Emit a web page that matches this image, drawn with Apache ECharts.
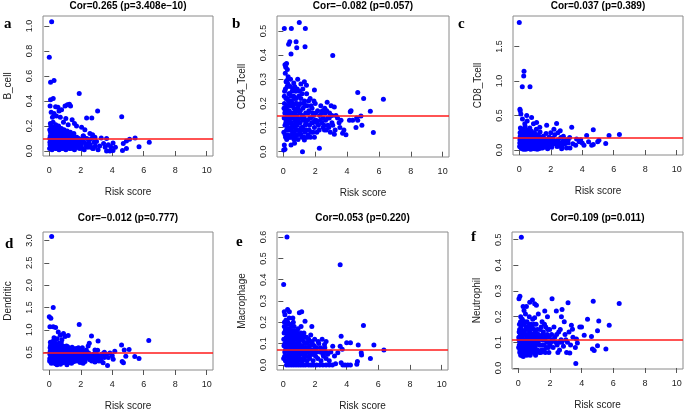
<!DOCTYPE html>
<html><head><meta charset="utf-8">
<script src="https://cdn.jsdelivr.net/npm/echarts@6/dist/echarts.min.js"></script>
<style>html,body{margin:0;padding:0;background:#fff}#c{width:685px;height:412px}</style>
</head><body><div id="c"></div>
<script>
// ---------- data ----------
const panelLetters = ['a','b','c','d','e','f'];
const panelTitles = ['Cor=0.265 (p=3.408e\u221210)','Cor=\u22120.082 (p=0.057)','Cor=0.037 (p=0.389)','Cor=\u22120.012 (p=0.777)','Cor=0.053 (p=0.220)','Cor=0.109 (p=0.011)'];
const cellTypes = ['B_cell','CD4_Tcell','CD8_Tcell','Dendritic','Macrophage','Neutrophil'];
const xName = 'Risk score';
const xTicks = [0,2,4,6,8,10];
const yTicksA = [0,0.2,0.4,0.6,0.8,1.0];
const yTicksB = [0,0.1,0.2,0.3,0.4,0.5];
const yTicksC = [0,0.5,1.0,1.5];
const yTicksD = [0.5,1.0,1.5,2.0,2.5,3.0];
const yTicksE = [0,0.1,0.2,0.3,0.4,0.5,0.6];
const yTicksF = [0,0.1,0.2,0.3,0.4,0.5];
const meanLines = [0.096,0.148,0.177,0.487,0.0716,0.110];

const bCell = [[0.15,1.035],[0.0,0.75],[0.08,0.55],[0.3,0.565],[1.9,0.46],[0.08,0.41],[0.25,0.42],[3.07,0.32],[4.6,0.275],[2.7,0.265],[2.37,0.265],[1.0,0.36],[1.15,0.37],[1.28,0.375],[1.35,0.36],[0.4,0.355],[0.05,0.36],[0.55,0.35],[0.12,0.31],[0.3,0.3],[0.62,0.32],[0.78,0.33],[0.45,0.28],[0.2,0.27],[0.7,0.27],[1.05,0.26],[1.45,0.25],[1.6,0.22],[1.73,0.2],[2.05,0.19],[0.9,0.23],[1.2,0.21],
[6.35,0.07],[5.7,0.035],[5.45,0.105],[5.1,0.095],[4.9,0.08],[4.9,0.02],[4.7,0.06],[4.65,0.005],[4.05,0.005],[3.85,0.0],[3.64,0.0],[4.05,0.065],[3.64,0.1],[3.3,0.105],[3.2,0.04],[3.0,0.077],[3.45,0.06],[3.55,0.03],[3.75,0.05],[3.9,0.035],[4.2,0.03],[3.1,0.01],[2.9,0.11],[2.8,0.02],[2.75,0.13],
[0.02,0.02],[0.04,0.07],[0.06,0.12],[0.03,0.17],[0.07,0.22],[0.09,0.04],[0.11,0.09],[0.13,0.14],[0.14,0.19],[0.17,0.01],[0.19,0.06],[0.21,0.11],[0.23,0.16],[0.24,0.23],[0.27,0.03],[0.29,0.08],[0.31,0.13],[0.33,0.18],[0.36,0.05],[0.38,0.1],[0.4,0.15],[0.41,0.21],[0.44,0.02],[0.46,0.07],[0.48,0.12],[0.5,0.17],[0.53,0.04],[0.55,0.09],[0.57,0.14],[0.59,0.2],[0.62,0.01],[0.64,0.06],[0.66,0.11],[0.68,0.16],[0.71,0.03],[0.73,0.08],[0.75,0.13],[0.77,0.18],[0.8,0.05],[0.82,0.1],[0.84,0.15],[0.87,0.02],[0.89,0.07],[0.91,0.12],[0.94,0.17],[0.96,0.04],[0.99,0.09],[1.02,0.14],[1.05,0.01],[1.08,0.06],[1.11,0.11],[1.14,0.16],[1.17,0.03],[1.2,0.08],[1.24,0.13],[1.27,0.05],[1.3,0.1],[1.34,0.15],[1.37,0.02],[1.41,0.07],[1.44,0.12],[1.48,0.04],[1.52,0.09],[1.56,0.14],[1.6,0.01],[1.64,0.06],[1.68,0.11],[1.72,0.03],[1.77,0.08],[1.82,0.05],[1.87,0.1],[1.92,0.02],[1.97,0.07],[2.03,0.04],[2.1,0.09],[2.17,0.12],[2.22,0.01],[2.3,0.06],[2.38,0.1],[2.45,0.03],[2.53,0.08],[2.6,0.05],[2.68,0.1],[2.76,0.02],[2.85,0.07],[2.93,0.04],[2.26,0.17],[2.58,0.14],[2.15,0.12],
[0.03,0.1],[0.05,0.05],[0.08,0.15],[0.1,0.2],[0.12,0.02],[0.16,0.12],[0.18,0.17],[0.2,0.07],[0.22,0.03],[0.26,0.13],[0.28,0.19],[0.3,0.05],[0.34,0.11],[0.37,0.16],[0.39,0.02],[0.43,0.09],[0.45,0.14],[0.47,0.04],[0.51,0.12],[0.54,0.06],[0.56,0.18],[0.6,0.1],[0.63,0.03],[0.67,0.14],[0.7,0.07],[0.74,0.11],[0.78,0.02],[0.81,0.08],[0.86,0.13],[0.9,0.04],[0.93,0.1],[0.97,0.15],[1.0,0.06],[1.04,0.11],[1.07,0.03],[1.12,0.08],[1.16,0.13],[1.19,0.05],[1.23,0.1],[1.28,0.02],[1.32,0.07],[1.36,0.12],[1.4,0.04],[1.46,0.09],[1.5,0.06],[1.55,0.02],[1.62,0.08],[1.7,0.05],[1.75,0.11],[1.85,0.03],[1.9,0.08],[2.0,0.06],[2.08,0.02],[2.2,0.07],[2.34,0.04],[2.5,0.06],[2.65,0.03]];

const cd4Tcell = [[0.06,0.51],[0.5,0.51],[1.0,0.535],[1.38,0.51],[0.33,0.445],[0.4,0.455],[0.8,0.455],[0.84,0.43],[1.36,0.435],[0.48,0.405],[3.1,0.398],[0.1,0.36],[0.15,0.35],[0.2,0.365],[0.25,0.34],[0.12,0.325],[0.3,0.31],[0.22,0.295],[0.45,0.3],[0.9,0.3],[1.32,0.29],[0.65,0.285],[1.1,0.28],[1.95,0.255],[1.45,0.275],
[4.67,0.245],[5.04,0.22],[6.28,0.217],[5.46,0.168],[5.65,0.079],[4.87,0.148],[4.93,0.11],[4.6,0.14],[4.56,0.1],[4.67,0.13],[4.25,0.17],[4.2,0.165],[4.35,0.13],[4.15,0.13],[3.62,0.13],[3.72,0.076],[3.93,0.07],[3.2,0.072],[3.5,0.12],[3.55,0.1],[3.8,0.09],[3.4,0.14],[3.0,0.19],[3.2,0.185],[3.3,0.15],[2.75,0.205],[2.6,0.18],[2.9,0.16],[3.05,0.12],[2.5,0.1],[2.7,0.09],[2.4,0.16],
[0.06,0.028],[0.02,0.007],[0.1,0.01],[0.48,0.028],[1.2,0.0],[2.26,0.014],[0.7,0.035],[1.32,0.048],[1.95,0.06],
[0.03,0.08],[0.05,0.14],[0.07,0.2],[0.08,0.25],[0.1,0.11],[0.12,0.17],[0.14,0.06],[0.16,0.22],[0.18,0.13],[0.2,0.09],[0.22,0.19],[0.24,0.27],[0.26,0.15],[0.28,0.07],[0.3,0.12],[0.32,0.21],[0.34,0.1],[0.36,0.17],[0.38,0.24],[0.4,0.06],[0.42,0.14],[0.44,0.19],[0.46,0.09],[0.48,0.23],[0.5,0.12],[0.52,0.16],[0.54,0.07],[0.56,0.2],[0.58,0.11],[0.6,0.26],[0.62,0.14],[0.64,0.08],[0.66,0.18],[0.68,0.1],[0.7,0.22],[0.72,0.13],[0.74,0.06],[0.76,0.17],[0.78,0.25],[0.8,0.09],[0.82,0.15],[0.84,0.2],[0.86,0.11],[0.88,0.07],[0.9,0.18],[0.93,0.13],[0.96,0.23],[0.99,0.09],[1.02,0.16],[1.05,0.12],[1.08,0.2],[1.11,0.07],[1.14,0.14],[1.17,0.24],[1.2,0.1],[1.23,0.18],[1.26,0.13],[1.3,0.06],[1.33,0.21],[1.36,0.11],[1.4,0.16],[1.44,0.09],[1.48,0.19],[1.52,0.13],[1.56,0.07],[1.6,0.17],[1.64,0.11],[1.68,0.22],[1.72,0.14],[1.76,0.08],[1.8,0.18],[1.85,0.12],[1.9,0.15],[1.95,0.1],[2.0,0.2],[2.05,0.13],[2.1,0.08],[2.15,0.17],[2.2,0.11],[2.28,0.15],[2.35,0.19],[2.42,0.12],[2.5,0.14],[2.58,0.09],[2.65,0.13],[2.72,0.17],[2.8,0.11],[2.88,0.14],[2.95,0.08],[3.05,0.15],
[0.04,0.18],[0.06,0.23],[0.09,0.16],[0.11,0.07],[0.13,0.26],[0.15,0.12],[0.17,0.29],[0.19,0.18],[0.21,0.05],[0.23,0.14],[0.25,0.22],[0.27,0.1],[0.29,0.28],[0.31,0.16],[0.33,0.06],[0.35,0.24],[0.37,0.13],[0.39,0.2],[0.41,0.09],[0.43,0.27],[0.45,0.16],[0.47,0.12],[0.49,0.06],[0.51,0.21],[0.53,0.1],[0.55,0.25],[0.57,0.15],[0.59,0.08],[0.61,0.19],[0.63,0.11],[0.65,0.23],[0.67,0.05],[0.69,0.16],[0.71,0.27],[0.73,0.1],[0.75,0.2],[0.77,0.12],[0.79,0.07],[0.81,0.22],[0.83,0.17],[0.85,0.09],[0.87,0.26],[0.89,0.14],[0.92,0.05],[0.95,0.19],[0.98,0.12],[1.01,0.25],[1.04,0.08],[1.07,0.17],[1.1,0.22],[1.13,0.1],[1.16,0.06],[1.19,0.15],[1.22,0.26],[1.25,0.09],[1.28,0.2],[1.31,0.14],[1.35,0.08],[1.38,0.19],[1.42,0.12],[1.46,0.24],[1.5,0.06],[1.54,0.16],[1.58,0.21],[1.62,0.09],[1.66,0.14],[1.7,0.06],[1.74,0.19],[1.78,0.12],[1.83,0.16],[1.88,0.08],[1.92,0.21],[1.97,0.13],[2.03,0.16],[2.12,0.12],[2.25,0.09],[2.32,0.13],[2.45,0.17],[2.55,0.11],[2.62,0.16],[2.78,0.14],[2.85,0.1],[3.1,0.11],[3.25,0.09]];

const cd8Tcell = [[0.0,1.845],[0.3,1.14],[0.28,1.07],[0.19,0.915],[0.68,0.915],[0.04,0.59],[0.06,0.57],[0.1,0.52],[0.47,0.5],[0.78,0.47],[1.74,0.36],[2.37,0.385],[3.33,0.33],[4.7,0.295],[6.36,0.224],[5.7,0.21],[5.49,0.095],[5.06,0.14],[4.98,0.12],[4.7,0.08],[4.6,0.07],[4.28,0.21],[4.11,0.07],[3.64,0.16],[3.58,0.07],[3.22,0.03],[2.69,0.02],
[0.2,0.45],[0.5,0.42],[1.1,0.4],[0.9,0.38],[1.3,0.33],[0.35,0.38],[2.6,0.28],[2.45,0.25],[2.8,0.2],[3.0,0.15],[3.1,0.1],[3.4,0.09],[3.8,0.12],[3.9,0.15],[4.0,0.1],[4.4,0.12],[2.2,0.3],[2.0,0.25],
[0.02,0.05],[0.04,0.15],[0.05,0.25],[0.07,0.32],[0.09,0.1],[0.11,0.2],[0.13,0.03],[0.15,0.28],[0.17,0.13],[0.19,0.22],[0.21,0.07],[0.23,0.17],[0.25,0.3],[0.27,0.01],[0.29,0.12],[0.31,0.24],[0.33,0.08],[0.35,0.19],[0.37,0.34],[0.39,0.04],[0.41,0.15],[0.43,0.26],[0.45,0.1],[0.47,0.21],[0.49,0.02],[0.51,0.14],[0.53,0.29],[0.55,0.07],[0.57,0.18],[0.59,0.11],[0.61,0.24],[0.63,0.04],[0.65,0.16],[0.67,0.32],[0.69,0.09],[0.71,0.2],[0.73,0.01],[0.75,0.13],[0.77,0.27],[0.79,0.06],[0.81,0.17],[0.84,0.22],[0.87,0.1],[0.9,0.03],[0.93,0.15],[0.96,0.25],[0.99,0.08],[1.02,0.19],[1.05,0.12],[1.08,0.3],[1.11,0.04],[1.14,0.16],[1.17,0.22],[1.2,0.09],[1.24,0.02],[1.28,0.14],[1.32,0.26],[1.36,0.07],[1.4,0.18],[1.44,0.11],[1.48,0.03],[1.52,0.2],[1.56,0.13],[1.6,0.06],[1.65,0.16],[1.7,0.24],[1.75,0.09],[1.8,0.02],[1.85,0.14],[1.9,0.19],[1.95,0.07],[2.0,0.12],[2.06,0.04],[2.12,0.17],[2.18,0.09],[2.25,0.22],[2.32,0.13],[2.4,0.05],[2.48,0.15],[2.56,0.1],[2.64,0.18],[2.72,0.06],[2.8,0.13],[2.9,0.09],[3.0,0.03],[3.1,0.14],[3.2,0.18],
[0.03,0.1],[0.06,0.2],[0.08,0.04],[0.1,0.14],[0.12,0.27],[0.14,0.08],[0.16,0.18],[0.18,0.02],[0.2,0.12],[0.22,0.25],[0.24,0.06],[0.26,0.16],[0.28,0.21],[0.3,0.04],[0.32,0.14],[0.34,0.28],[0.36,0.09],[0.38,0.2],[0.4,0.01],[0.42,0.11],[0.44,0.18],[0.46,0.05],[0.48,0.24],[0.5,0.09],[0.52,0.16],[0.54,0.03],[0.56,0.12],[0.58,0.22],[0.6,0.07],[0.62,0.15],[0.64,0.27],[0.66,0.02],[0.68,0.11],[0.7,0.17],[0.72,0.06],[0.74,0.22],[0.76,0.09],[0.78,0.14],[0.8,0.03],[0.83,0.12],[0.86,0.19],[0.89,0.06],[0.92,0.1],[0.95,0.02],[0.98,0.14],[1.01,0.22],[1.04,0.07],[1.07,0.12],[1.1,0.18],[1.13,0.01],[1.16,0.1],[1.19,0.15],[1.22,0.05],[1.26,0.2],[1.3,0.09],[1.34,0.13],[1.38,0.03],[1.42,0.16],[1.46,0.08],[1.5,0.11],[1.55,0.05],[1.6,0.15],[1.66,0.1],[1.72,0.04],[1.78,0.12],[1.84,0.07],[1.9,0.1],[1.98,0.16],[2.1,0.08],[2.22,0.12],[2.36,0.09],[2.52,0.06],[2.68,0.1]];

const dendritic = [[0.15,3.09],[0.25,1.5],[0.0,1.29],[0.1,1.26],[0.04,1.07],[0.25,1.07],[1.9,1.12],[2.68,0.86],[6.32,0.76],[4.59,0.66],[4.76,0.55],[5.07,0.56],[5.43,0.4],[5.7,0.36],[4.86,0.41],[4.63,0.29],[4.71,0.26],[4.06,0.34],[4.16,0.52],[3.85,0.48],[3.42,0.26],[3.49,0.38],[3.07,0.54],[2.9,0.28],[3.1,0.75],[2.47,0.64],[2.54,0.7],[0.4,1.05],[0.57,0.95],[0.9,0.92],[1.0,0.85],[1.2,0.87],[0.7,0.88],[0.3,0.82],[0.5,0.8],[0.8,0.78],
[2.1,0.6],[2.2,0.45],[2.3,0.35],[2.4,0.5],[2.6,0.4],[2.7,0.3],[2.8,0.45],[3.0,0.35],[3.2,0.42],[3.3,0.3],[3.6,0.45],[3.7,0.2],[3.75,0.38],[2.0,0.3],[2.15,0.25],[3.5,0.5],[2.9,0.55],[2.35,0.55],[3.35,0.46],[4.0,0.42],
[0.02,0.3],[0.04,0.45],[0.05,0.6],[0.07,0.72],[0.09,0.38],[0.11,0.52],[0.13,0.25],[0.15,0.66],[0.17,0.42],[0.19,0.55],[0.21,0.33],[0.23,0.48],[0.25,0.75],[0.27,0.28],[0.29,0.4],[0.31,0.6],[0.33,0.35],[0.35,0.5],[0.37,0.68],[0.39,0.24],[0.41,0.44],[0.43,0.57],[0.45,0.32],[0.47,0.47],[0.49,0.22],[0.51,0.39],[0.53,0.62],[0.55,0.3],[0.57,0.53],[0.59,0.43],[0.61,0.7],[0.63,0.27],[0.65,0.48],[0.67,0.36],[0.69,0.58],[0.71,0.23],[0.73,0.41],[0.75,0.65],[0.77,0.31],[0.79,0.51],[0.82,0.38],[0.85,0.6],[0.88,0.26],[0.91,0.45],[0.94,0.34],[0.97,0.55],[1.0,0.29],[1.03,0.47],[1.06,0.39],[1.09,0.64],[1.12,0.22],[1.15,0.5],[1.18,0.33],[1.21,0.42],[1.25,0.27],[1.29,0.56],[1.33,0.37],[1.37,0.46],[1.41,0.25],[1.45,0.61],[1.49,0.35],[1.53,0.44],[1.57,0.29],[1.61,0.52],[1.66,0.38],[1.71,0.58],[1.76,0.3],[1.81,0.45],[1.86,0.36],[1.91,0.55],[1.96,0.27],[2.01,0.42],[2.07,0.34],[2.13,0.5],[2.2,0.4],[2.27,0.29],[2.34,0.45],[2.42,0.37],[2.5,0.48],[2.58,0.33],[2.66,0.43],[2.75,0.36],[2.85,0.41],[2.95,0.32],[3.1,0.4],[3.25,0.36],
[0.03,0.36],[0.06,0.52],[0.08,0.65],[0.1,0.28],[0.12,0.46],[0.14,0.58],[0.16,0.33],[0.18,0.7],[0.2,0.44],[0.22,0.26],[0.24,0.61],[0.26,0.38],[0.28,0.53],[0.3,0.3],[0.32,0.47],[0.34,0.72],[0.36,0.42],[0.38,0.56],[0.4,0.29],[0.42,0.64],[0.44,0.37],[0.46,0.52],[0.48,0.27],[0.5,0.44],[0.52,0.68],[0.54,0.35],[0.56,0.46],[0.58,0.25],[0.6,0.58],[0.62,0.4],[0.64,0.33],[0.66,0.62],[0.68,0.44],[0.7,0.29],[0.72,0.53],[0.74,0.38],[0.76,0.71],[0.78,0.45],[0.81,0.28],[0.84,0.5],[0.87,0.4],[0.9,0.63],[0.93,0.3],[0.96,0.42],[0.99,0.52],[1.02,0.36],[1.05,0.58],[1.08,0.3],[1.11,0.44],[1.14,0.39],[1.17,0.62],[1.2,0.27],[1.24,0.48],[1.28,0.34],[1.32,0.52],[1.36,0.3],[1.4,0.4],[1.44,0.5],[1.48,0.28],[1.52,0.58],[1.56,0.38],[1.6,0.46],[1.65,0.31],[1.7,0.41],[1.75,0.52],[1.8,0.34],[1.85,0.6],[1.9,0.4],[1.95,0.48],[2.05,0.55],[2.25,0.38],[2.45,0.42],[2.62,0.36],[2.8,0.32],[3.0,0.45],[3.15,0.3]];

const macrophage = [[0.23,0.6],[0.02,0.378],[3.59,0.47],[5.06,0.185],[3.65,0.135],[5.72,0.093],[6.35,0.07],[5.5,0.03],[4.92,0.057],[4.94,0.047],[4.68,0.016],[4.64,0.003],[4.24,0.0],[4.07,0.0],[3.9,0.0],[3.76,0.0],[3.65,0.01],[4.0,0.104],[4.24,0.104],[4.73,0.093],[3.59,0.088],[3.72,0.073],[3.44,0.057],[3.23,0.042],[3.12,0.088],[2.8,0.057],[2.7,0.11],[2.6,0.096],[2.45,0.12],[1.8,0.18],[1.37,0.205],[1.16,0.25],[1.01,0.245],[0.27,0.26],[0.38,0.25],[0.06,0.25],[0.1,0.235],[0.6,0.22],
[0.2,0.0],[0.35,0.0],[0.5,0.0],[0.65,0.0],[0.8,0.0],[0.95,0.0],[1.1,0.0],[1.25,0.0],[1.4,0.0],[1.6,0.0],[1.75,0.0],[1.9,0.0],[2.1,0.0],[2.3,0.0],[2.5,0.0],[2.7,0.0],[2.9,0.0],[3.1,0.0],[3.3,0.005],
[0.02,0.03],[0.04,0.09],[0.05,0.15],[0.07,0.2],[0.09,0.06],[0.11,0.12],[0.13,0.02],[0.15,0.17],[0.17,0.08],[0.19,0.13],[0.21,0.04],[0.23,0.1],[0.25,0.19],[0.27,0.01],[0.29,0.07],[0.31,0.14],[0.33,0.05],[0.35,0.11],[0.37,0.22],[0.39,0.03],[0.41,0.09],[0.43,0.16],[0.45,0.06],[0.47,0.12],[0.49,0.02],[0.51,0.08],[0.53,0.18],[0.55,0.04],[0.57,0.1],[0.59,0.14],[0.61,0.06],[0.63,0.2],[0.65,0.03],[0.67,0.09],[0.69,0.13],[0.71,0.05],[0.73,0.16],[0.75,0.01],[0.77,0.08],[0.79,0.12],[0.82,0.04],[0.85,0.1],[0.88,0.15],[0.91,0.06],[0.94,0.02],[0.97,0.11],[1.0,0.07],[1.03,0.14],[1.06,0.03],[1.09,0.09],[1.12,0.18],[1.15,0.05],[1.18,0.12],[1.22,0.02],[1.26,0.08],[1.3,0.15],[1.34,0.04],[1.38,0.1],[1.42,0.06],[1.46,0.13],[1.5,0.02],[1.54,0.08],[1.58,0.11],[1.63,0.04],[1.68,0.09],[1.73,0.14],[1.78,0.05],[1.83,0.1],[1.88,0.02],[1.93,0.07],[1.98,0.12],[2.04,0.04],[2.1,0.08],[2.17,0.03],[2.24,0.1],[2.31,0.06],[2.38,0.02],[2.46,0.07],[2.54,0.04],[2.62,0.08],[2.7,0.03],[2.8,0.05],[2.9,0.02],[3.0,0.06],
[0.03,0.12],[0.06,0.18],[0.08,0.04],[0.1,0.1],[0.12,0.16],[0.14,0.07],[0.16,0.21],[0.18,0.11],[0.2,0.02],[0.22,0.15],[0.24,0.07],[0.26,0.12],[0.28,0.2],[0.3,0.04],[0.32,0.1],[0.34,0.17],[0.36,0.07],[0.38,0.13],[0.4,0.02],[0.42,0.11],[0.44,0.19],[0.46,0.05],[0.48,0.14],[0.5,0.09],[0.52,0.03],[0.54,0.12],[0.56,0.16],[0.58,0.07],[0.6,0.11],[0.62,0.02],[0.64,0.14],[0.66,0.06],[0.68,0.18],[0.7,0.1],[0.72,0.03],[0.74,0.12],[0.76,0.07],[0.78,0.15],[0.81,0.09],[0.84,0.02],[0.87,0.13],[0.9,0.08],[0.93,0.17],[0.96,0.05],[0.99,0.1],[1.02,0.03],[1.05,0.12],[1.08,0.07],[1.11,0.15],[1.14,0.02],[1.17,0.09],[1.2,0.14],[1.24,0.06],[1.28,0.11],[1.32,0.03],[1.36,0.08],[1.4,0.13],[1.45,0.04],[1.5,0.1],[1.55,0.06],[1.6,0.12],[1.66,0.03],[1.72,0.07],[1.8,0.11],[1.86,0.05],[1.95,0.09],[2.08,0.06],[2.2,0.11],[2.35,0.08],[2.5,0.05],[2.66,0.06]];

const neutrophil = [[0.19,0.51],[0.04,0.27],[0.1,0.28],[0.89,0.265],[2.13,0.27],[3.14,0.254],[4.73,0.26],[6.37,0.251],[5.74,0.167],[5.08,0.183],[4.37,0.19],[3.99,0.16],[3.88,0.16],[4.16,0.128],[4.62,0.123],[5.0,0.145],[4.68,0.074],[4.79,0.068],[5.0,0.087],[5.53,0.074],[3.63,0.017],[3.25,0.058],[3.35,0.167],[3.42,0.151],[3.67,0.113],[3.73,0.097],[2.76,0.228],[2.4,0.222],[2.72,0.2],[1.84,0.2],[1.67,0.222],[1.14,0.244],[1.03,0.25],[0.72,0.256],[0.51,0.24],[0.3,0.24],[0.36,0.224],[0.15,0.2],[1.03,0.196],
[2.05,0.1],[2.2,0.08],[2.3,0.12],[2.45,0.09],[2.55,0.14],[2.6,0.07],[2.7,0.11],[2.85,0.085],[2.95,0.13],[3.05,0.06],[3.1,0.1],[3.2,0.14],[3.3,0.09],[3.45,0.12],[2.25,0.16],[2.5,0.06],[2.9,0.18],[3.6,0.08],[2.1,0.13],[2.65,0.15],
[0.02,0.08],[0.04,0.11],[0.05,0.14],[0.07,0.17],[0.09,0.06],[0.11,0.1],[0.13,0.13],[0.15,0.05],[0.17,0.16],[0.19,0.09],[0.21,0.12],[0.23,0.07],[0.25,0.19],[0.27,0.1],[0.29,0.14],[0.31,0.045],[0.33,0.08],[0.35,0.17],[0.37,0.11],[0.39,0.06],[0.41,0.13],[0.43,0.09],[0.45,0.21],[0.47,0.15],[0.49,0.07],[0.51,0.11],[0.53,0.05],[0.55,0.18],[0.57,0.1],[0.59,0.13],[0.61,0.08],[0.63,0.16],[0.65,0.06],[0.67,0.12],[0.69,0.2],[0.71,0.09],[0.73,0.14],[0.75,0.05],[0.77,0.11],[0.79,0.17],[0.82,0.08],[0.85,0.13],[0.88,0.1],[0.91,0.19],[0.94,0.06],[0.97,0.12],[1.0,0.15],[1.03,0.08],[1.06,0.11],[1.09,0.05],[1.12,0.17],[1.15,0.1],[1.18,0.13],[1.22,0.07],[1.26,0.21],[1.3,0.11],[1.34,0.09],[1.38,0.15],[1.42,0.06],[1.46,0.12],[1.5,0.18],[1.54,0.09],[1.58,0.14],[1.63,0.07],[1.68,0.11],[1.73,0.16],[1.78,0.08],[1.83,0.13],[1.88,0.1],[1.93,0.06],[1.98,0.15],
[0.03,0.12],[0.06,0.09],[0.08,0.15],[0.1,0.07],[0.12,0.11],[0.14,0.18],[0.16,0.08],[0.18,0.12],[0.2,0.15],[0.22,0.05],[0.24,0.1],[0.26,0.13],[0.28,0.08],[0.3,0.17],[0.32,0.11],[0.34,0.065],[0.36,0.14],[0.38,0.09],[0.4,0.18],[0.42,0.11],[0.44,0.07],[0.46,0.13],[0.48,0.1],[0.5,0.16],[0.52,0.08],[0.54,0.12],[0.56,0.06],[0.58,0.15],[0.6,0.1],[0.62,0.12],[0.64,0.07],[0.66,0.17],[0.68,0.09],[0.7,0.13],[0.72,0.06],[0.74,0.11],[0.76,0.15],[0.78,0.08],[0.8,0.12],[0.83,0.1],[0.86,0.16],[0.89,0.07],[0.92,0.13],[0.95,0.09],[0.98,0.17],[1.01,0.11],[1.04,0.06],[1.07,0.14],[1.1,0.09],[1.13,0.12],[1.16,0.07],[1.2,0.15],[1.24,0.1],[1.28,0.13],[1.32,0.06],[1.36,0.12],[1.4,0.09],[1.44,0.16],[1.48,0.07],[1.52,0.11],[1.56,0.13],[1.6,0.09],[1.65,0.17],[1.7,0.06],[1.75,0.12],[1.8,0.1],[1.85,0.15],[1.9,0.08],[1.95,0.12],[2.0,0.09],[2.15,0.11],[2.35,0.1],[2.42,0.13],[2.75,0.1],[3.0,0.11],[2.58,0.1]];

// ---------- layout ----------
const panelData = [bCell, cd4Tcell, cd8Tcell, dendritic, macrophage, neutrophil];
const panelYTicks = [yTicksA, yTicksB, yTicksC, yTicksD, yTicksE, yTicksF];
const gridBoxes = [
  {left:43, top:16, width:170, height:140},
  {left:277, top:16, width:172, height:141},
  {left:513, top:16, width:170, height:139},
  {left:43, top:232, width:170, height:138},
  {left:277, top:232, width:171, height:138},
  {left:512, top:232, width:171, height:137}
];
const yRanges = [[-0.04,1.08],[-0.022,0.562],[-0.072,1.94],[0.1,3.19],[-0.024,0.624],[-0.004,0.53]];
const titleY = [6,6,6,218,218,218];
const letterPos = [[4,17],[232,17],[458,17],[5,237],[236,235],[471,230]];

const SANS = '"Liberation Sans", Arial, sans-serif';
const chart = echarts.init(document.getElementById('c'), null, {renderer:'canvas'});

const grids = [], xAxes = [], yAxes = [], series = [], graphics = [];
for (let i = 0; i < 6; i++) {
  const g = gridBoxes[i];
  grids.push(Object.assign({show:true, borderColor:'#8a8a8a', borderWidth:1, backgroundColor:'transparent', containLabel:false}, g));
  xAxes.push({
    gridIndex:i, type:'value', min:-0.4, max:10.4,
    axisLine:{show:false}, splitLine:{show:false},
    axisTick:{show:true, length:5, customValues:xTicks, lineStyle:{color:'#555'}},
    axisLabel:{customValues:xTicks, margin:10, fontSize:9, color:'#222', fontFamily:SANS},
    name:xName, nameLocation:'middle', nameGap:31,
    nameTextStyle:{fontSize:10, color:'#222', fontFamily:SANS}
  });
  yAxes.push({
    gridIndex:i, type:'value', min:yRanges[i][0], max:yRanges[i][1],
    axisLine:{show:false}, splitLine:{show:false},
    axisTick:{show:true, length:5, customValues:panelYTicks[i], lineStyle:{color:'#555'}},
    axisLabel:{customValues:panelYTicks[i], rotate:90, margin:9, fontSize:9, color:'#222', fontFamily:SANS,
      formatter: v => Number(v).toFixed(1)},
    name:cellTypes[i], nameLocation:'middle', nameGap:30,
    nameTextStyle:{fontSize:10, color:'#222', fontFamily:SANS}
  });
  series.push({
    type:'scatter', xAxisIndex:i, yAxisIndex:i, data:panelData[i],
    symbol:'circle', symbolSize:5, itemStyle:{color:'#0000ff', opacity:1},
    silent:true, z:2,
    markLine:{silent:true, symbol:'none', label:{show:false}, z:5,
      lineStyle:{color:'#ff1a1a', width:1.5, type:'solid', opacity:1},
      emphasis:{disabled:true},
      data:[{yAxis:meanLines[i]}]}
  });
  graphics.push({type:'text', x:g.left + g.width/2, y:titleY[i], silent:true,
    style:{text:panelTitles[i], font:'bold 10px ' + SANS, fill:'#000', align:'center', verticalAlign:'middle'}});
  graphics.push({type:'text', x:letterPos[i][0], y:letterPos[i][1], silent:true,
    style:{text:panelLetters[i], font:'bold 15px "Liberation Serif", "Times New Roman", serif', fill:'#000', align:'left', verticalAlign:'alphabetic'}});
}

chart.setOption({
  animation:false,
  backgroundColor:'#ffffff',
  textStyle:{fontFamily:SANS},
  grid:grids, xAxis:xAxes, yAxis:yAxes, series:series, graphic:graphics
});
</script>
</body></html>
